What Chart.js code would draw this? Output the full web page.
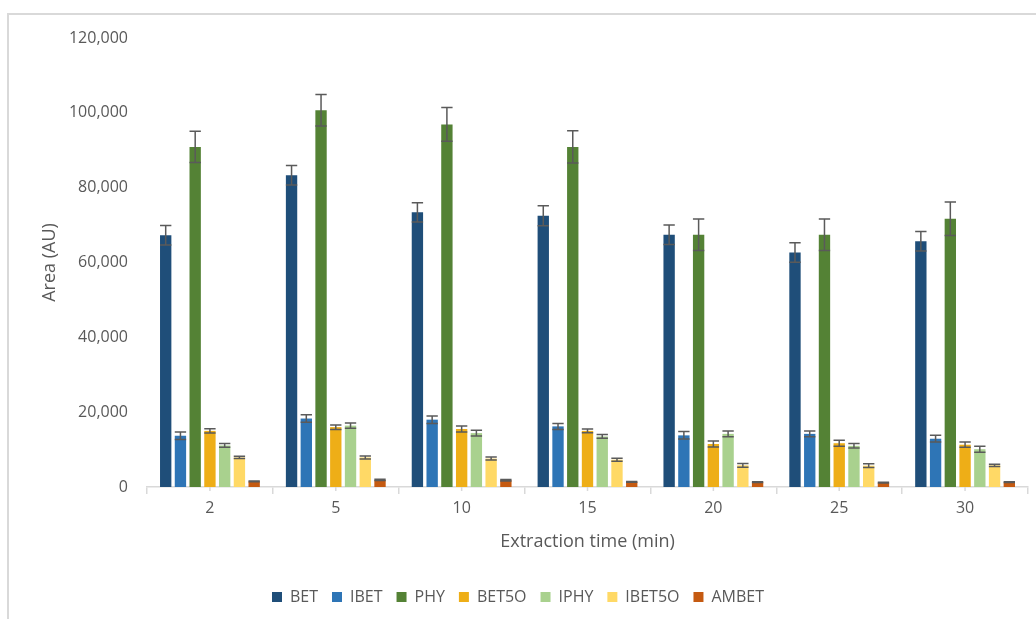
<!DOCTYPE html>
<html>
<head>
<meta charset="utf-8">
<script src="https://cdn.jsdelivr.net/npm/chart.js@4/dist/chart.umd.min.js"></script>
<style>
  html, body { margin: 0; padding: 0; background: #ffffff; overflow: hidden; }
  #frame { position: absolute; left: 7px; top: 13px; width: 1100px; height: 700px; border: 2px solid #d9d9d9; }
  #wrap { position: absolute; left: 0; top: 0; width: 1036px; height: 619px; }
</style>
</head>
<body>
<div id="frame"></div>
<div id="wrap"><canvas id="c" width="1036" height="619"></canvas></div>
<script>
// Extraction time (min)
const categories = ['2', '5', '10', '15', '20', '25', '30'];

// Peak areas (AU) and their standard deviations
const BET        = [67300, 83300, 73400, 72500, 67400, 62700, 65700];
const BET_err    = [2600, 2600, 2600, 2700, 2600, 2600, 2600];
const IBET       = [13700, 18300, 18000, 16200, 13800, 14200, 12900];
const IBET_err   = [1000, 1000, 1000, 800, 1000, 800, 900];
const PHY        = [90900, 100700, 96900, 90900, 67400, 67400, 71700];
const PHY_err    = [4200, 4200, 4500, 4300, 4200, 4200, 4500];
const BET5O      = [15000, 16000, 15500, 15000, 11500, 11700, 11300];
const BET5O_err  = [600, 600, 800, 500, 800, 800, 700];
const IPHY       = [11100, 16400, 14400, 13500, 14200, 11000, 10100];
const IPHY_err   = [500, 700, 800, 500, 800, 600, 800];
const IBET5O     = [7900, 7900, 7600, 7300, 5800, 5700, 5800];
const IBET5O_err = [300, 400, 400, 400, 500, 500, 300];
const AMBET      = [1500, 1900, 1800, 1400, 1300, 1200, 1300];
const AMBET_err  = [100, 150, 200, 100, 100, 100, 100];

const yTicks = [0, 20000, 40000, 60000, 80000, 100000, 120000];

const series = [
  { label: 'BET',    data: BET,    err: BET_err,    color: '#1F4E79' },
  { label: 'IBET',   data: IBET,   err: IBET_err,   color: '#2E75B6' },
  { label: 'PHY',    data: PHY,    err: PHY_err,    color: '#548235' },
  { label: 'BET5O',  data: BET5O,  err: BET5O_err,  color: '#EEAE17' },
  { label: 'IPHY',   data: IPHY,   err: IPHY_err,   color: '#A9D18E' },
  { label: 'IBET5O', data: IBET5O, err: IBET5O_err, color: '#FFD966' },
  { label: 'AMBET',  data: AMBET,  err: AMBET_err,  color: '#C55A11' }
];

const textColor = '#595959';
const lineColor = '#d9d9d9';
const fontFamily = "'Open Sans', 'Noto Sans', sans-serif";

// Symmetric error bars drawn from each bar's value ± its deviation
const errorBars = {
  id: 'errorBars',
  afterDatasetsDraw(chart) {
    const ctx = chart.ctx;
    const y = chart.scales.y;
    ctx.save();
    ctx.strokeStyle = '#5a5a5a';
    ctx.lineWidth = 1.5;
    chart.data.datasets.forEach((ds, i) => {
      const meta = chart.getDatasetMeta(i);
      if (meta.hidden) return;
      meta.data.forEach((bar, j) => {
        const v = ds.data[j], e = ds.err[j];
        const yt = y.getPixelForValue(v + e);
        const yb = y.getPixelForValue(v - e);
        const half = bar.width / 2;
        ctx.beginPath();
        ctx.moveTo(bar.x, yt); ctx.lineTo(bar.x, yb);
        ctx.moveTo(bar.x - half, yt); ctx.lineTo(bar.x + half, yt);
        ctx.moveTo(bar.x - half, yb); ctx.lineTo(bar.x + half, yb);
        ctx.stroke();
      });
    });
    ctx.restore();
  }
};

// Short tick marks at the category centres, under the axis line
const centreTicks = {
  id: 'centreTicks',
  afterDraw(chart) {
    const ctx = chart.ctx;
    const x = chart.scales.x;
    const y0 = chart.chartArea.bottom;
    ctx.save();
    ctx.strokeStyle = lineColor;
    ctx.lineWidth = 1.5;
    categories.forEach((c, i) => {
      const px = x.getPixelForValue(i);
      ctx.beginPath();
      ctx.moveTo(px, y0);
      ctx.lineTo(px, y0 + 4);
      ctx.stroke();
    });
    ctx.restore();
  }
};

new Chart(document.getElementById('c'), {
  type: 'bar',
  data: {
    labels: categories,
    datasets: series.map(s => ({
      label: s.label,
      data: s.data,
      err: s.err,
      backgroundColor: s.color,
      borderWidth: 0,
      categoryPercentage: 0.82,
      barPercentage: 0.77
    }))
  },
  options: {
    responsive: false,
    animation: false,
    layout: { padding: { left: 8, right: 8, top: 38, bottom: 4 } },
    plugins: {
      tooltip: { enabled: false },
      legend: {
        position: 'bottom',
        labels: {
          boxWidth: 10,
          boxHeight: 10,
          padding: 14,
          color: textColor,
          font: { family: fontFamily, size: 16 }
        }
      }
    },
    scales: {
      x: {
        grid: {
          display: true,
          drawOnChartArea: false,
          drawTicks: true,
          tickLength: 7,
          color: lineColor,
          lineWidth: 1.5
        },
        border: { display: true, color: lineColor, width: 1.5 },
        ticks: { color: textColor, padding: 5, font: { family: fontFamily, size: 16 } },
        title: {
          display: true,
          text: 'Extraction time (min)',
          color: textColor,
          font: { family: fontFamily, size: 18 },
          padding: { top: 0, bottom: 22 }
        },
        afterFit(scale) { scale.height = 88; }
      },
      y: {
        min: 0,
        max: 120000,
        afterBuildTicks(scale) { scale.ticks = yTicks.map(v => ({ value: v })); },
        grid: { display: false },
        border: { display: false },
        ticks: {
          color: textColor,
          padding: 11,
          font: { family: fontFamily, size: 16 },
          callback: v => v.toLocaleString('en-US')
        },
        title: {
          display: true,
          text: 'Area (AU)',
          color: textColor,
          font: { family: fontFamily, size: 18 },
          padding: { top: 31, bottom: 0 }
        },
        afterFit(scale) { scale.width = 139; }
      }
    }
  },
  plugins: [errorBars, centreTicks]
});
</script>
</body>
</html>
